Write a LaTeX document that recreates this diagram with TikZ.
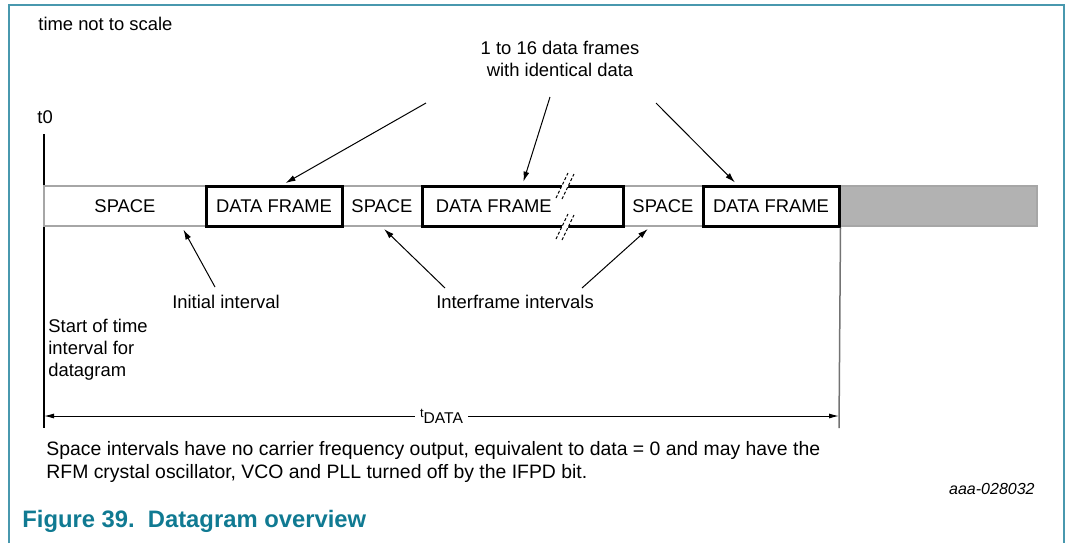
\documentclass[tikz,border=0pt]{standalone}
\usepackage{fontspec}
\setmainfont{Liberation Sans}
\usepackage{xcolor}
\usepackage{tikz}
\usetikzlibrary{arrows.meta, positioning, calc}

\definecolor{capteal}{RGB}{16,122,146}
\definecolor{frameteal}{RGB}{72,152,174}
\definecolor{spacegray}{RGB}{166,166,166}
\definecolor{idlegray}{RGB}{178,178,178}

\begin{document}
\begin{tikzpicture}[x=0.5pt, y=-0.5pt,
		font=\fontsize{9.2}{11}\selectfont,
		spacebox/.style={draw=spacegray, line width=1pt, fill=white, minimum height=20pt, inner sep=0pt},
		framebox/.style={draw=black, line width=1.5pt, fill=white, minimum height=20pt, inner sep=0pt},
		txt/.style={inner sep=0pt},
		ptr/.style={-{Latex[length=5pt,width=3pt]}, line width=0.5pt, shorten >=1.5pt},
		dimarr/.style={{Latex[length=5pt,width=2.5pt]}-{Latex[length=5pt,width=2.5pt]}, line width=0.5pt},
		brk/.style={dash pattern=on 1.5pt off 1pt, line width=0.5pt}]
		\useasboundingbox (0,0) rectangle (1066,543);
		
		% Frame
		\draw[frameteal, line width=0.8pt] (9,543) -- (9,5) -- (1064,5) -- (1064,543);
		
		% Time origin
		\coordinate (t0top) at (44,134);
		\coordinate (t0bot) at (44,428);
		\draw[line width=0.6pt] (t0top) -- (t0bot);
		
		% Datagram bar
		\node[spacebox, minimum width=81pt] (sp1) at (125,206) {SPACE};
		\node[spacebox, minimum width=40pt] (sp2) at (382,206) {SPACE};
		\node[spacebox, minimum width=40pt] (sp3) at (663,206) {SPACE};
		\node[draw=spacegray, fill=idlegray, line width=1pt, minimum width=99pt, minimum height=20pt] (idle) at (938,206) {};
		\node[framebox, minimum width=68pt] (df1) at (274,206) {DATA FRAME};
		\node[framebox, minimum width=100.5pt] (df2) at (522.5,206) {};
		\node[framebox, minimum width=68pt] (df3) at (771,206) {DATA FRAME};
		\node[txt, right=7.5pt of df2.west] (df2txt) {DATA FRAME};
		
		% Break marks
		\fill[white] (556,198) -- (568,173) -- (574,174) -- (562,199) -- cycle;
		\fill[white] (556,239) -- (568,214) -- (574,215) -- (562,240) -- cycle;
		\draw[brk] (556,198) -- (568,173);
		\draw[brk] (562,199) -- (574,174);
		\draw[brk] (556,239) -- (568,214);
		\draw[brk] (562,240) -- (574,215);
		
		% End of datagram time
		\coordinate (endbot) at (839,428);
		\draw[black!55, line width=0.75pt] (df3.south east) -- (endbot);
		
		% t_DATA
		\coordinate (dimL) at (44,416);
		\coordinate (dimR) at (839,416);
		\draw[dimarr] (dimL) -- node[fill=white, inner sep=2.5pt] (tdata)
		{\fontsize{7.8}{8}\selectfont\raisebox{0.7ex}{\fontsize{6.4}{7}\selectfont t}DATA} (dimR);
		
		% Labels with pointers
		\node[txt, align=center] (nframes) at (560,59) {1 to 16 data frames\\with identical data};
		\coordinate (nf1) at (426,103);
		\coordinate (nf2) at (550,97);
		\coordinate (nf3) at (656,103);
		\draw[ptr] (nf1) -- ($(df1.north)+(9,0)$);
		\draw[ptr] (nf2) -- (df2.north);
		\draw[ptr] (nf3) -- ($(df3.north)+(-34,0)$);
		
		\node[txt] (initlbl) at (226,302) {Initial interval};
		\coordinate (ini) at (215,287);
		\draw[ptr] (ini) -- ($(sp1.south)+(57,0)$);
		
		\node[txt] (ifrlbl) at (515,302) {Interframe intervals};
		\coordinate (ifr1) at (445,288);
		\coordinate (ifr2) at (582,288);
		\draw[ptr] (ifr1) -- (sp2.south);
		\draw[ptr] (ifr2) -- ($(sp3.south)+(-13,0)$);
		
		% Texts
		\node[txt, anchor=west] (scalelbl) at (38,24) {time not to scale};
		\node[txt, anchor=west] (t0lbl) at (37,117) {t0};
		\node[txt, anchor=west, align=left] (startlbl) at (48,350) {Start of time\\interval for\\datagram};
		\node[txt, anchor=west, align=left, font=\fontsize{9.7}{11.8}\selectfont] (note) at (46,462)
		{Space intervals have no carrier frequency output, equivalent to data = 0 and may have the\\RFM crystal oscillator, VCO and PLL turned off by the IFPD bit.};
		\node[txt, anchor=east, font=\fontsize{8}{10}\selectfont\itshape] (docid) at (1035,489) {aaa-028032};
		\node[txt, anchor=west, text=capteal, font=\fontsize{11.9}{14}\selectfont\bfseries] (caption) at (22,521) {Figure 39.\hspace{0.55em}Datagram overview};
	\end{tikzpicture}
\end{document}
